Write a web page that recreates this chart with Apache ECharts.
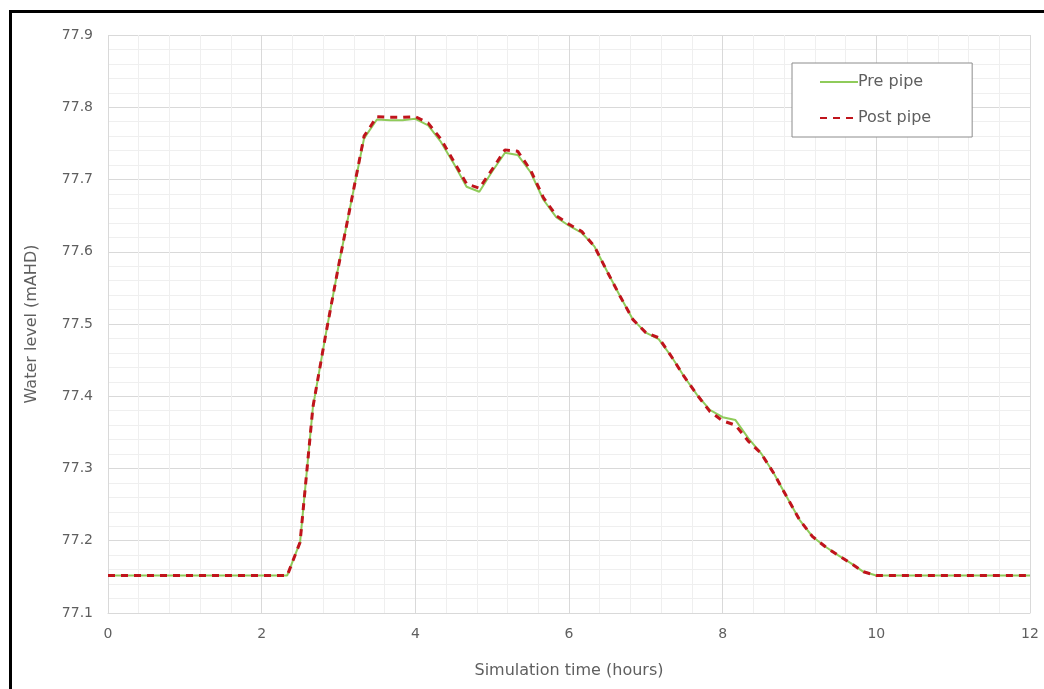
<!DOCTYPE html>
<html>
<head>
<meta charset="utf-8">
<script src="https://cdn.jsdelivr.net/npm/echarts@6/dist/echarts.min.js"></script>
<style>
html,body{margin:0;padding:0;background:#fff;}
#chart{width:1044px;height:689px;}
</style>
</head>
<body>
<div id="chart"></div>
<script>
const times = [0, 2.333, 2.5, 2.667, 2.833, 3.0, 3.167, 3.333, 3.5, 3.667, 3.833, 4.0, 4.167, 4.333, 4.5, 4.667, 4.833, 5.0, 5.167, 5.333, 5.5, 5.667, 5.833, 6.0, 6.167, 6.333, 6.5, 6.667, 6.833, 7.0, 7.167, 7.333, 7.5, 7.667, 7.833, 8.0, 8.167, 8.333, 8.5, 8.667, 8.833, 9.0, 9.167, 9.333, 9.5, 9.667, 9.833, 10.0, 12];
const prePipe = [77.152, 77.152, 77.198, 77.385, 77.485, 77.58, 77.67, 77.757, 77.783, 77.782, 77.782, 77.784, 77.775, 77.752, 77.722, 77.69, 77.683, 77.711, 77.737, 77.734, 77.71, 77.672, 77.648, 77.636, 77.626, 77.607, 77.572, 77.538, 77.506, 77.488, 77.479, 77.455, 77.427, 77.402, 77.381, 77.371, 77.367, 77.342, 77.321, 77.293, 77.261, 77.229, 77.206, 77.192, 77.18, 77.169, 77.157, 77.152, 77.152];
const postPipe = [77.152, 77.152, 77.198, 77.385, 77.485, 77.58, 77.67, 77.76, 77.787, 77.786, 77.786, 77.787, 77.778, 77.756, 77.725, 77.694, 77.688, 77.714, 77.741, 77.739, 77.713, 77.675, 77.65, 77.638, 77.628, 77.607, 77.572, 77.538, 77.506, 77.488, 77.481, 77.455, 77.427, 77.402, 77.379, 77.366, 77.36, 77.338, 77.321, 77.293, 77.261, 77.229, 77.206, 77.192, 77.18, 77.169, 77.157, 77.152, 77.152];
const seriesNames = ['Pre pipe', 'Post pipe'];
const xTitle = 'Simulation time (hours)';
const yTitle = 'Water level (mAHD)';

const chart = echarts.init(document.getElementById('chart'));
const font = 'DejaVu Sans';
const txt = '#5f5f5f';
chart.setOption({
  animation: false,
  backgroundColor: '#fff',
  grid: {left: 108, right: 14, top: 35, bottom: 76},
  legend: {
    orient: 'vertical', left: 792, top: 63,
    padding: [11, 41, 11, 27],
    itemWidth: 38, itemHeight: 10, itemGap: 20,
    borderColor: '#8c8c8c', borderWidth: 1,
    backgroundColor: '#fff',
    itemStyle: {opacity: 0},
    textStyle: {fontFamily: font, fontSize: 16, color: txt, padding: [0, 0, 0, -5]},
    data: seriesNames
  },
  xAxis: {
    type: 'value', min: 0, max: 12, interval: 2,
    name: xTitle, nameLocation: 'middle', nameGap: 50,
    nameTextStyle: {fontFamily: font, fontSize: 16, color: txt},
    axisLine: {show: true, lineStyle: {color: '#d9d9d9'}},
    axisTick: {show: false},
    axisLabel: {fontFamily: font, fontSize: 14, color: txt, margin: 14},
    splitLine: {show: true, lineStyle: {color: '#d9d9d9', width: 1}},
    minorTick: {show: false, splitNumber: 5},
    minorSplitLine: {show: true, lineStyle: {color: '#efefef', width: 1}}
  },
  yAxis: {
    type: 'value', min: 77.1, max: 77.9, interval: 0.1,
    name: yTitle, nameLocation: 'middle', nameGap: 68, nameRotate: 90,
    nameTextStyle: {fontFamily: font, fontSize: 16, color: txt},
    axisLine: {show: false},
    axisTick: {show: false},
    axisLabel: {fontFamily: font, fontSize: 14, color: txt, margin: 15,
      formatter: v => v.toFixed(1)},
    splitLine: {show: true, lineStyle: {color: '#d9d9d9', width: 1}},
    minorTick: {show: false, splitNumber: 5},
    minorSplitLine: {show: true, lineStyle: {color: '#efefef', width: 1}}
  },
  graphic: [{
    type: 'polyline', silent: true, z: 100,
    shape: {points: [[10.5, 689], [10.5, 11.5], [1044, 11.5]]},
    style: {stroke: '#000', lineWidth: 3, fill: null}
  }],
  series: [{
    name: seriesNames[0], type: 'line', symbol: 'none', z: 2,
    data: times.map((t, i) => [t, prePipe[i]]),
    lineStyle: {color: '#8fcb5a', width: 2},
    itemStyle: {color: '#8fcb5a'}
  }, {
    name: seriesNames[1], type: 'line', symbol: 'none', z: 3,
    data: times.map((t, i) => [t, postPipe[i]]),
    lineStyle: {color: '#c0141c', width: 3, type: [7, 6]},
    itemStyle: {color: '#c0141c'}
  }]
});
</script>
</body>
</html>
